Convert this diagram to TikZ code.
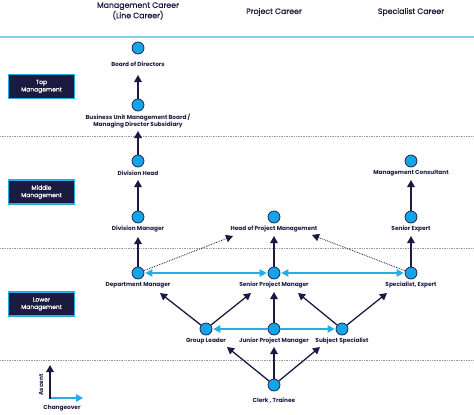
\documentclass[tikz,border=0pt]{standalone}
\usepackage{fontspec}
\setmainfont{Poppins}
\usetikzlibrary{calc}
\usetikzlibrary{arrows.meta}
\usetikzlibrary{positioning}
\definecolor{marine}{HTML}{1B1A40}
\definecolor{cyanrond}{HTML}{14A4E8}
\definecolor{cyanfleche}{HTML}{25AEE6}
\definecolor{cyanligne}{HTML}{7ECDEE}
\tikzstyle{rond}         =[circle, draw=marine, fill=cyanrond, line width=0.7pt, minimum size=12pt, inner sep=0pt]
\tikzstyle{etiquette}    =[font=\fontsize{5.8}{7}\selectfont\bfseries, text=marine, align=center, inner sep=1pt]
\tikzstyle{niveau}       =[draw=cyanfleche, line width=1.2pt, fill=marine, text=white, font=\fontsize{6}{7.4}\selectfont\addfontfeatures{FakeBold=0.6}, minimum width=66pt, minimum height=24pt, align=center, inner sep=1pt]
\tikzstyle{carriere}     =[font=\fontsize{7.8}{8.6}\selectfont\addfontfeatures{FakeBold=0.8}, text=marine, align=center, inner sep=1pt]
\tikzstyle{monte}        =[draw=marine, line width=1.3pt, -{Triangle[length=7pt,width=7.5pt]}]
\tikzstyle{change}       =[draw=cyanfleche, line width=1.3pt, -{Triangle[length=7pt,width=7.5pt]}]
\tikzstyle{deuxsens}     =[draw=cyanfleche, line width=1.3pt, {Triangle[length=7pt,width=7.5pt]}-{Triangle[length=7pt,width=7.5pt]}]
\tikzstyle{pointille}    =[draw=marine, densely dotted, line width=0.8pt, -{Triangle[length=7pt,width=7.5pt]}]
\tikzstyle{separation}   =[draw=gray!80, densely dotted, line width=0.7pt]

\begin{document}
\begin{tikzpicture}[x=1pt,y=-1pt]

\useasboundingbox (0,0) rectangle (474,415);

%%%%%%%%%%%%%%%%%%%%%%%%
%Titres des colonnes et lignes de séparation
%%%%%%%%%%%%%%%%%%%%%%%%

\node[carriere] (t-ligne) at (138,11) {Management Career\\(Line Career)};
\node[carriere] (t-projet) at (274,12) {Project Career};
\node[carriere] (t-expert) at (411,12) {Specialist Career};

\draw[cyanligne, line width=1.6pt] (0,37)--(474,37);
\foreach \y in {136,248,360}{\draw[separation] (0,\y)--(474,\y);}

%%%%%%%%%%%%%%%%%%%%%%%%
%Niveaux de management
%%%%%%%%%%%%%%%%%%%%%%%%

\node[niveau] (n-top) at (41.5,86.5) {Top\\Management};
\node[niveau] (n-mid) at (41.5,192) {Middle\\Management};
\node[niveau] (n-low) at (41.5,304) {Lower\\Management};

%%%%%%%%%%%%%%%%%%%%%%%%
%Postes : nom/abscisse/ordonnée/ordonnée de l'étiquette/texte
%%%%%%%%%%%%%%%%%%%%%%%%

\foreach \nom/\x/\y/\ly/\texte in {
    bod/138/48/64/{Board of Directors},
    bum/138/105/121/{Business Unit Management Board /\\Managing Director Subsidiary},
    divh/138/161/173/{Division Head},
    divm/138/217/229/{Division Manager},
    dep/138/273/285/{Department Manager},
    hpm/274/217/229/{Head of Project Management},
    spm/274/273/285/{Senior Project Manager},
    mgc/411/161/173/{Management Consultant},
    senex/411/217/229/{Senior Expert},
    spex/411/273/285/{Specialist, Expert},
    grl/206/329/341/{Group Leader},
    jpm/274/329/341/{Junior Project Manager},
    sus/342/329/341/{Subject Specialist},
    clk/274/385/401/{Clerk , Trainee}}{
    \node[rond] (c-\nom) at (\x,\y) {};
    \node[etiquette] (l-\nom) at (\x,\ly) {\texte};
}

%%%%%%%%%%%%%%%%%%%%%%%%
%Montées : départ/arrivée/décalage de la pointe par rapport à l'étiquette
%%%%%%%%%%%%%%%%%%%%%%%%

\foreach \de/\vers/\dx/\dy in {
    bum/bod/0/11, divh/bum/0/10, divm/divh/0/7, dep/divm/0/8,
    spm/hpm/0/7, senex/mgc/0/7, spex/senex/0/7,
    grl/dep/22/8, grl/spm/-23/8, jpm/spm/0/7, sus/spm/24/8, sus/spex/-24/8,
    clk/grl/21/6, clk/jpm/0/6, clk/sus/-22/6}{
    \draw[monte] (c-\de) -- ([shift={(\dx,\dy)}]l-\vers.center);
}

%passages vers la gestion de projet (pointillés)
\draw[pointille] (c-dep) -- ([shift={(-41,7)}]l-hpm.center);
\draw[pointille] (c-spex) -- ([shift={(38,6)}]l-hpm.center);

%%%%%%%%%%%%%%%%%%%%%%%%
%Changements horizontaux
%%%%%%%%%%%%%%%%%%%%%%%%

\draw[deuxsens, shorten <=1pt, shorten >=1pt] (c-dep) -- (c-spm);
\draw[deuxsens, shorten <=1pt, shorten >=1pt] (c-spm) -- (c-spex);
\draw[change, shorten >=1pt] (c-jpm) -- (c-grl);
\draw[change, shorten >=1pt] (c-jpm) -- (c-sus);

%%%%%%%%%%%%%%%%%%%%%%%%
%Légende
%%%%%%%%%%%%%%%%%%%%%%%%

\coordinate (orig) at (50,398);
\coordinate (haut) at (50,365);
\coordinate (droite) at (83,398);
\draw[change] ([xshift=-0.6pt]orig) -- (droite);
\draw[monte] ([yshift=-0.6pt]orig) -- (haut);
\node[etiquette, rotate=90] (asc) at (41,385) {Ascent};
\node[etiquette] (chg) at (62,408) {Changeover};

\end{tikzpicture}
\end{document}
